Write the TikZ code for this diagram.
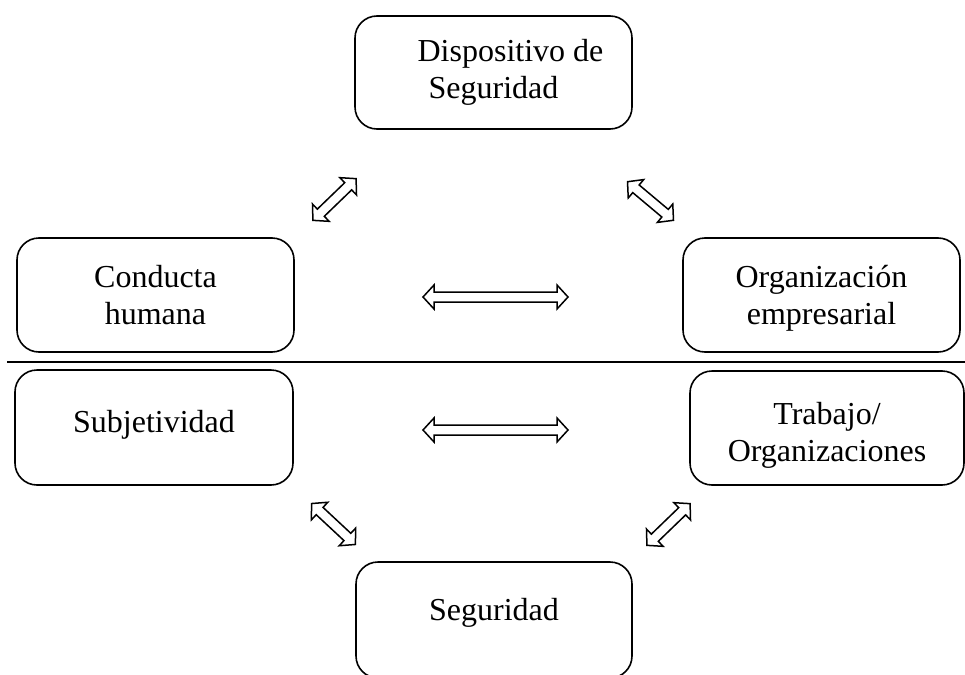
\documentclass[tikz,border=0pt]{standalone}
\usepackage{fontspec}
\setmainfont{Liberation Serif}
\begin{document}
\begin{tikzpicture}[x=1pt,y=-1pt,
  box/.style={draw, line width=1.6pt, rounded corners=22pt, align=center,
    font=\fontsize{32}{37}\selectfont, inner sep=0pt},
  arrline/.style={draw, line width=1.5pt, line join=miter, fill=white},
  rule/.style={line width=1.2pt},
  dblarr/.pic={
    \draw[arrline] (-#1,0) -- (-#1+11,12) -- (-#1+11,5) -- (#1-11,5) -- (#1-11,12)
      -- (#1,0) -- (#1-11,-12) -- (#1-11,-5) -- (-#1+11,-5) -- (-#1+11,-12) -- cycle;
  }]
\useasboundingbox (0,0) rectangle (965,674);

\node[box, minimum width=277pt, minimum height=113pt] (disp) at (493.5,72.5)
  {\hspace*{34pt}Dispositivo de\\Seguridad};
\node[box, minimum width=277pt, minimum height=114pt] (cond) at (155.5,295)
  {Conducta\\humana};
\node[box, minimum width=277pt, minimum height=114pt] (org) at (821.5,295)
  {\raisebox{-4pt}[\height][\depth]{\begin{tabular}{@{}c@{}}Organización\\empresarial\end{tabular}}};
\node[box, minimum width=278pt, minimum height=115pt] (subj) at (154,427.5)
  {\raisebox{3pt}[\height][\depth]{Subjetividad}};
\node[box, minimum width=274pt, minimum height=114pt] (trab) at (827,428)
  {\raisebox{-8pt}[\height][\depth]{\begin{tabular}{@{}c@{}}Trabajo/\\Organizaciones\end{tabular}}};
\node[box, minimum width=276pt, minimum height=116pt] (seg) at (494,620)
  {\raisebox{7pt}[\height][\depth]{Seguridad}};

\coordinate (l1) at (7,362);
\coordinate (l2) at (965,362);
\draw[rule] (l1) -- (l2);

\pic (h1) at (495.5,297) {dblarr=72.5};
\pic (h2) at (495.5,430) {dblarr=72.5};
\pic[rotate=44] (d1) at (334.5,199.5) {dblarr=30};
\pic[rotate=-40] (d2) at (650.5,201) {dblarr=30};
\pic[rotate=-43] (d3) at (333.5,524) {dblarr=30};
\pic[rotate=44] (d4) at (668.5,524.5) {dblarr=30};
\end{tikzpicture}
\end{document}
